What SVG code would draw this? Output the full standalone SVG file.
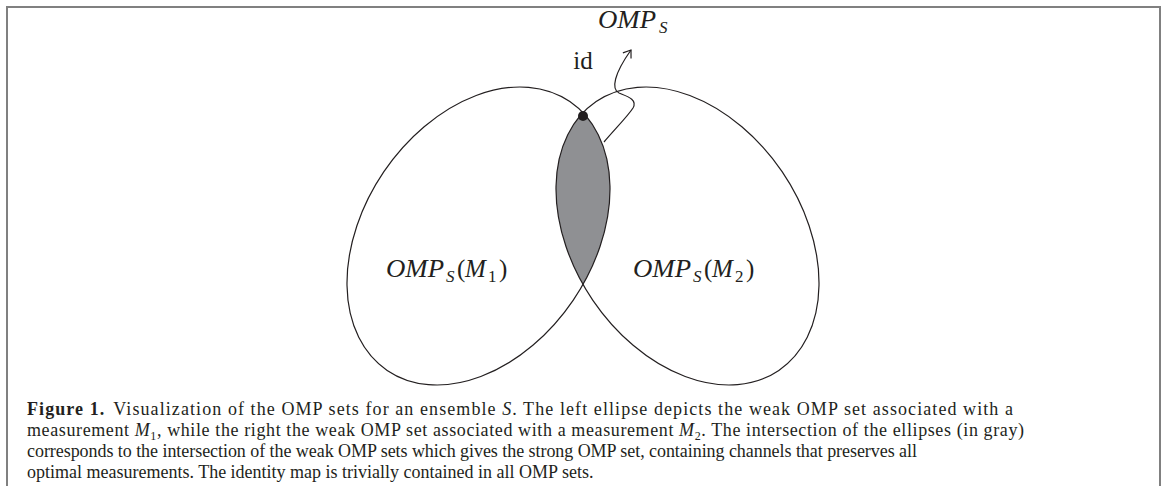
<svg xmlns="http://www.w3.org/2000/svg" width="1165" height="486" viewBox="0 0 1165 486">
<style>
.frame{stroke:#808080;stroke-width:2;fill:none}
.ell{fill:none;stroke:#231f20;stroke-width:1.2}
.lbl{font-family:"Liberation Serif",serif;font-size:25px;fill:#231f20}
.sub{font-size:17px}
.it{font-style:italic}
.cap{font-family:"Liberation Serif",serif;font-size:18px;fill:#231f20}
</style>
<defs>
<clipPath id="clipL"><ellipse cx="478.5" cy="236" rx="162.5" ry="114.4" transform="rotate(-55.8 478.5 236)"/></clipPath>
<marker id="arr" markerWidth="12" markerHeight="12" refX="10" refY="6" orient="auto" markerUnits="userSpaceOnUse">
<path d="M3,1 L10,6 L3,11" fill="none" stroke="#231f20" stroke-width="1.2"/>
</marker>
</defs>
<path class="frame" d="M7,486 L7,7 L1160,7 L1160,486"/>
<g id="lens" clip-path="url(#clipL)">
<ellipse cx="687.5" cy="236" rx="162.5" ry="114.4" transform="rotate(55.8 687.5 236)" fill="#8f9093"/>
</g>
<g id="omp-m1">
<ellipse class="ell" cx="478.5" cy="236" rx="162.5" ry="114.4" transform="rotate(-55.8 478.5 236)"/>
<text class="lbl it" x="386" y="277" textLength="58" lengthAdjust="spacingAndGlyphs">OMP</text>
<text class="lbl it sub" x="446" y="282">S</text>
<text class="lbl" x="457" y="277">(</text>
<text class="lbl it" x="465" y="277">M</text>
<text class="lbl sub" x="488" y="282">1</text>
<text class="lbl" x="499" y="277">)</text>
</g>
<g id="omp-m2">
<ellipse class="ell" cx="687.5" cy="236" rx="162.5" ry="114.4" transform="rotate(55.8 687.5 236)"/>
<text class="lbl it" x="633" y="277" textLength="58" lengthAdjust="spacingAndGlyphs">OMP</text>
<text class="lbl it sub" x="693" y="282">S</text>
<text class="lbl" x="704" y="277">(</text>
<text class="lbl it" x="712" y="277">M</text>
<text class="lbl sub" x="735" y="282">2</text>
<text class="lbl" x="746" y="277">)</text>
</g>
<g id="id-node">
<circle cx="583" cy="116" r="5" fill="#231f20"/>
<text class="lbl" x="583" y="69" text-anchor="middle" font-size="22">id</text>
</g>
<g id="omp-s">
<text class="lbl it" x="598" y="28" textLength="58" lengthAdjust="spacingAndGlyphs">OMP</text>
<text class="lbl it sub" x="659" y="33">S</text>
</g>
<g id="connectors">
<path d="M604,142 C614,130 628,116 633,108 C638,99 626,96 619,93 C611,89 614,74 631,50" fill="none" stroke="#231f20" stroke-width="1.2" marker-end="url(#arr)"/>
</g>
<g id="caption">
<text class="cap" x="27" y="415" textLength="986" lengthAdjust="spacing"><tspan font-weight="bold">Figure 1.</tspan><tspan dx="8">Visualization of the OMP sets for an ensemble </tspan><tspan class="it">S</tspan>. The left ellipse depicts the weak OMP set associated with a</text>
<text class="cap" x="27" y="436" textLength="997" lengthAdjust="spacing">measurement <tspan class="it">M</tspan><tspan font-size="12" dy="4">1</tspan><tspan dy="-4">, while the right the weak OMP set associated with a measurement </tspan><tspan class="it">M</tspan><tspan font-size="12" dy="4">2</tspan><tspan dy="-4">. The intersection of the ellipses (in gray)</tspan></text>
<text class="cap" x="27" y="457" textLength="890" lengthAdjust="spacing">corresponds to the intersection of the weak OMP sets which gives the strong OMP set, containing channels that preserves all</text>
<text class="cap" x="27" y="478">optimal measurements. The identity map is trivially contained in all OMP sets.</text>
</g>
</svg>
